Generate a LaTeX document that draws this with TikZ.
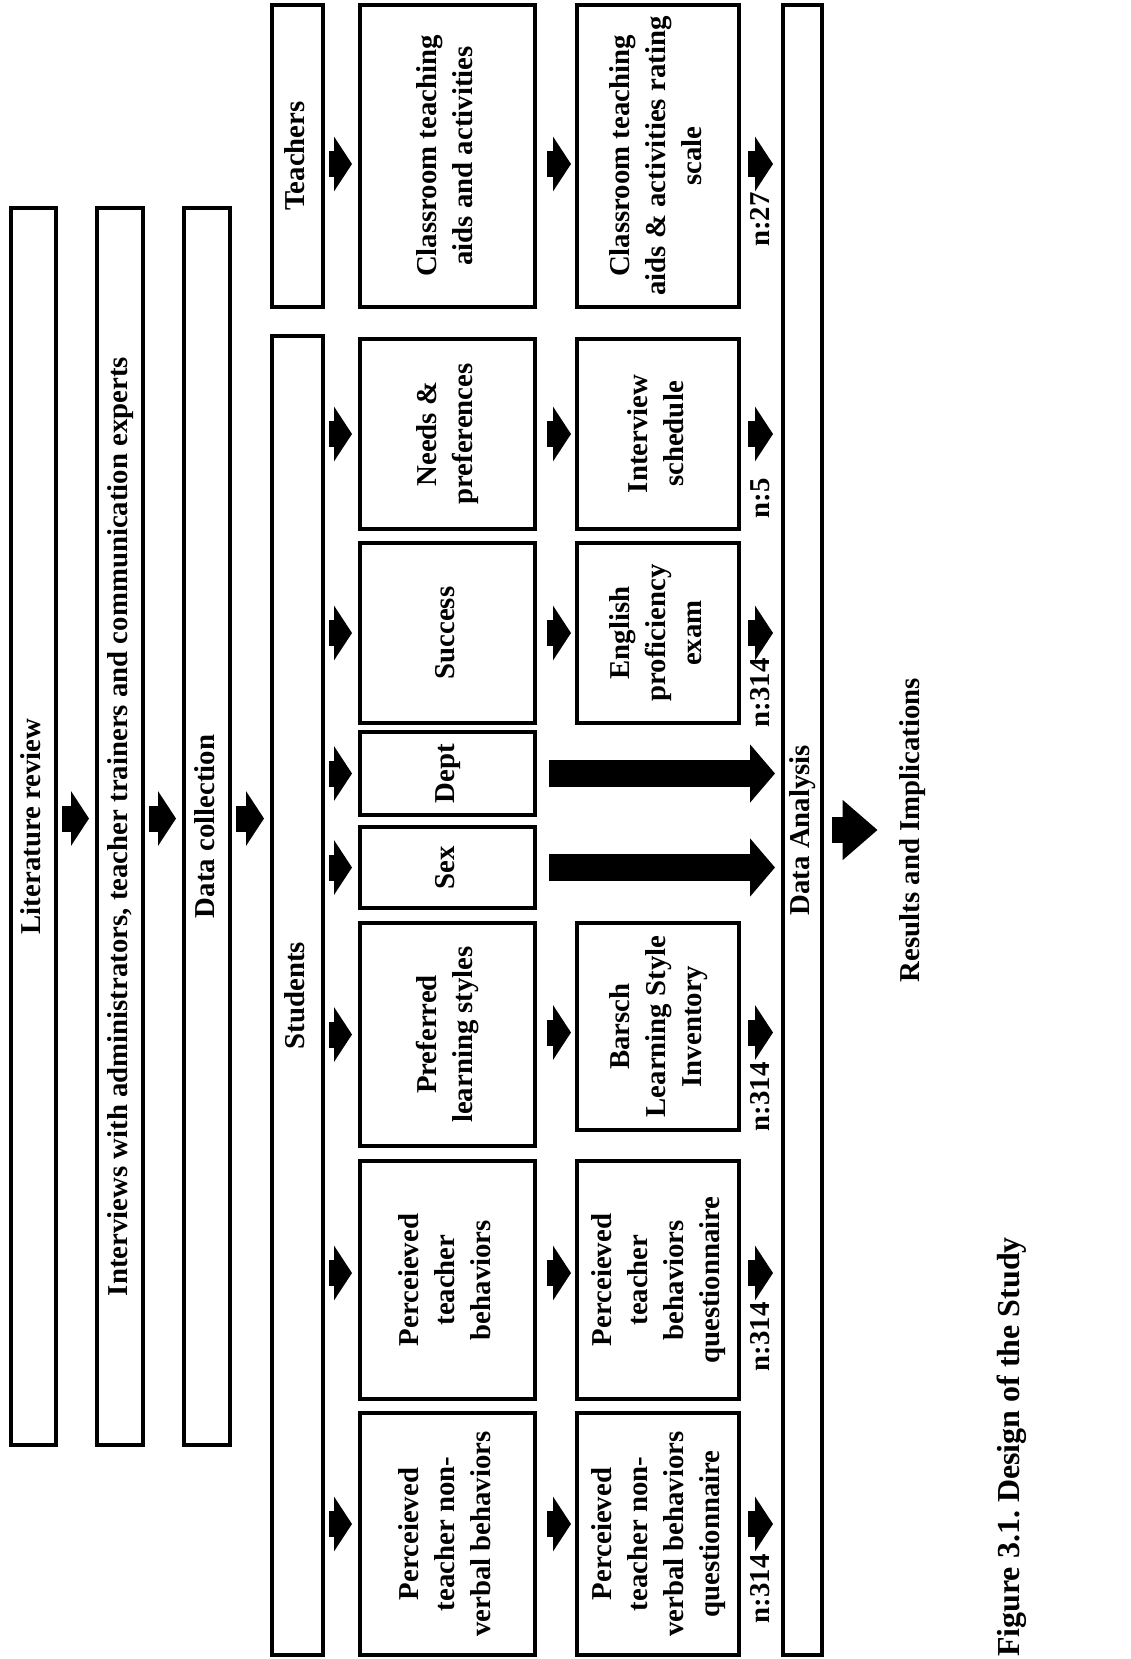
\documentclass[tikz,border=0pt]{standalone}
\usepackage{fontspec}
\setmainfont{Liberation Serif}
\usetikzlibrary{arrows.meta}
\frenchspacing

% upright text turned to read bottom-to-top
\newcommand{\vt}[1]{\rotatebox{90}{\begin{tabular}{@{}c@{}}#1\end{tabular}}}

\begin{document}
\begin{tikzpicture}[x=0.5pt,y=-0.5pt,
    font=\bfseries\fontsize{14.4}{18}\selectfont,
    box/.style={draw, line width=2pt, inner sep=0pt},
    lbl/.style={inner sep=0pt},
    blk/.style={line width=13pt, -{Triangle[length=9pt,width=27pt]}, shorten <=2pt, shorten >=3pt},
    bigblk/.style={line width=13.5pt, -{Triangle[length=12.5pt,width=28.5pt]}, shorten <=6pt, shorten >=3pt},
    resblk/.style={line width=13pt, -{Triangle[length=17.5pt,width=29pt]}, shorten <=4pt, shorten >=8pt}]
    \useasboundingbox (0,0) rectangle (1130,1659);

    % stages
    \node[box, minimum width=22.5pt, minimum height=618.5pt] (lit) at (33.5,826.5) {\vt{Literature review}};
    \node[box, minimum width=23pt, minimum height=618.5pt] (intv) at (120,826.5) {\vt{Interviews with administrators, teacher trainers and communication experts}};
    \node[box, minimum width=23pt, minimum height=618.5pt] (dcol) at (207,826.5) {\vt{Data collection}};
    \node[box, minimum width=25.5pt, minimum height=151pt] (teach) at (297.5,156) {\vt{Teachers}};
    \node[box, minimum width=25.5pt, minimum height=659.5pt] (stud) at (297.5,995.5) {\vt{Students}};

    % variables
    \node[box, minimum width=87.5pt, minimum height=151pt] (cls) at (447.5,156) {\vt{Classroom teaching\\aids and activities}};
    \node[box, minimum width=87.5pt, minimum height=95pt] (needs) at (447.5,434) {\vt{Needs \&\\preferences}};
    \node[box, minimum width=87.5pt, minimum height=90pt] (succ) at (447.5,633) {\vt{Success}};
    \node[box, minimum width=87.5pt, minimum height=41.5pt] (dept) at (447.5,773.5) {\vt{Dept}};
    \node[box, minimum width=87.5pt, minimum height=40.5pt] (sex) at (447.5,867.5) {\vt{Sex}};
    \node[box, minimum width=87.5pt, minimum height=111.5pt] (pref) at (447.5,1034.5) {\vt{Preferred\\learning styles}};
    \node[box, minimum width=87.5pt, minimum height=119pt] (ptb) at (447.5,1280) {\vt{Perceieved\\teacher\\behaviors}};
    \node[box, minimum width=87.5pt, minimum height=121pt] (nvb) at (447.5,1534) {\vt{Perceieved\\teacher non-\\verbal behaviors}};

    % instruments
    \node[box, minimum width=81pt, minimum height=151pt] (rate) at (658,156) {\vt{Classroom teaching\\aids \& activities rating\\scale}};
    \node[box, minimum width=81pt, minimum height=95pt] (intsch) at (658,434) {\vt{Interview\\schedule}};
    \node[box, minimum width=81pt, minimum height=90pt] (eng) at (658,633) {\vt{English\\proficiency\\exam}};
    \node[box, minimum width=81pt, minimum height=103.5pt] (bar) at (658,1026.5) {\vt{Barsch\\Learning Style\\Inventory}};
    \node[box, minimum width=81pt, minimum height=119pt] (ptbq) at (658,1280) {\vt{Perceieved\\teacher\\behaviors\\questionnaire}};
    \node[box, minimum width=81pt, minimum height=121pt] (nvq) at (658,1534) {\vt{Perceieved\\teacher non-\\verbal behaviors\\questionnaire}};

    \node[box, minimum width=19.5pt, minimum height=825pt] (da) at (802.5,830) {\vt{Data Analysis}};
    \node[lbl] (res) at (912,830) {\vt{Results and Implications}};

    % sample sizes
    \node[lbl, anchor=north] (n1) at (762,192) {\vt{n:27}};
    \node[lbl, anchor=north] (n2) at (762,478) {\vt{n:5}};
    \node[lbl, anchor=north] (n3) at (762,658) {\vt{n:314}};
    \node[lbl, anchor=north] (n4) at (762,1062) {\vt{n:314}};
    \node[lbl, anchor=north] (n5) at (762,1302) {\vt{n:314}};
    \node[lbl, anchor=north] (n6) at (762,1554) {\vt{n:314}};

    \node[lbl, font=\bfseries\fontsize{16}{19}\selectfont] (cap) at (1012,1447) {\vt{Figure 3.1. Design of the Study}};

    % flow
    \draw[blk] ([yshift=4pt]lit.east) -- ([yshift=4pt]intv.west);
    \draw[blk] ([yshift=4pt]intv.east) -- ([yshift=4pt]dcol.west);
    \draw[blk] ([yshift=4pt]dcol.east) -- ([yshift=4pt]dcol.east -| stud.west);
    \draw[blk] ([yshift=-4pt]teach.east) -- ([yshift=-4pt]cls.west);
    \foreach \b/\s in {needs/0pt,succ/0pt,dept/0pt,sex/0pt,pref/0pt,ptb/3.5pt,nvb/5pt}
        \draw[blk] ([yshift=\s]stud.east |- \b.west) -- ([yshift=\s]\b.west);
    \foreach \a/\b/\s in {cls/rate/-4pt,needs/intsch/0pt,succ/eng/0pt,pref/bar/1pt,ptb/ptbq/3.5pt,nvb/nvq/5pt} {
        \draw[blk, shorten <=5pt, shorten >=2pt] ([yshift=\s]\a.east) -- ([yshift=\s]\a.east -| \b.west);
        \draw[blk, shorten <=3.5pt, shorten >=4pt] ([yshift=\s]\a.east -| \b.east) -- ([yshift=\s]\a.east -| da.west);
    }
    \foreach \b in {sex,dept}
        \draw[bigblk] (\b.east) -- (\b.east -| da.west);
    \draw[resblk] (da.east |- res.west) -- (res.west);
\end{tikzpicture}
\end{document}
